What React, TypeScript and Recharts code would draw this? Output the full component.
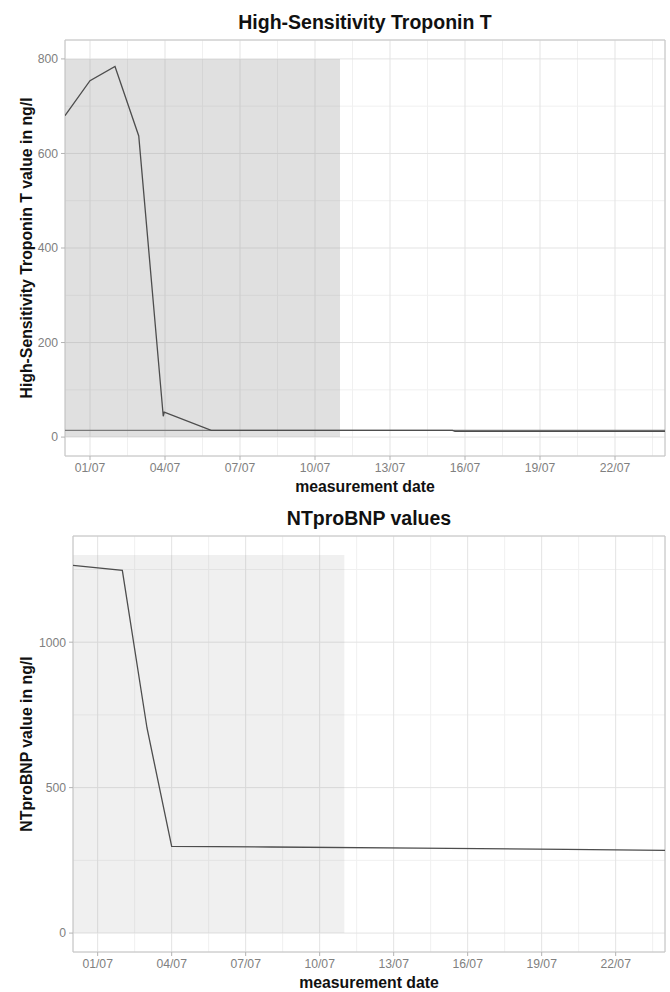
import {
  ComposedChart,
  Line,
  XAxis,
  YAxis,
  CartesianGrid,
  ReferenceArea,
  ReferenceLine,
  Label,
} from "recharts";

const FONT = "'Liberation Sans', Arial, sans-serif";

// shared date axis (day 0 = 30/06)
const dateDomain = [0, 24];
const dateTicks = [1, 4, 7, 10, 13, 16, 19, 22];
const dateTickLabels = ["01/07", "04/07", "07/07", "10/07", "13/07", "16/07", "19/07", "22/07"];
const dateMinor = [2.5, 5.5, 8.5, 11.5, 14.5, 17.5, 20.5, 23.5];
const shadeEnd = 11;

// hs troponin T
const tntDays = [0, 1, 2, 2.95, 3.93, 3.97, 5.85, 8, 11, 15.5, 15.6, 20, 24];
const tntValues = [680, 754, 784, 637, 44, 53, 14, 14, 14, 14, 12, 12, 12];
const tntTicks = [0, 200, 400, 600, 800];
const tntMinor = [100, 300, 500, 700];
const tntDomain = [-40, 840];
const tntShadeTop = 800;
const tntReference = 14;

// NTproBNP
const bnpDays = [0, 2, 3, 4, 8, 14, 20, 24];
const bnpValues = [1264, 1247, 705, 298, 296, 292, 288, 284];
const bnpTicks = [0, 500, 1000];
const bnpMinor = [250, 750, 1250];
const bnpDomain = [-65, 1365];
const bnpShadeTop = 1300;

type PanelProps = {
  title: string;
  yLabel: string;
  days: number[];
  values: number[];
  yDomain: number[];
  yTicks: number[];
  yMinor: number[];
  shadeTop: number;
  shadeOpacity: number;
  refValue?: number;
  yAxisWidth: number;
};

function Panel({
  title,
  yLabel,
  days,
  values,
  yDomain,
  yTicks,
  yMinor,
  shadeTop,
  shadeOpacity,
  refValue,
  yAxisWidth,
}: PanelProps) {
  const data = days.map((d, i) => ({ day: d, value: values[i] }));
  const plotWidth = 670 - yAxisWidth - 5;

  return (
    <div style={{ position: "relative", width: 670, height: 496 }}>
      <div
        style={{
          position: "absolute",
          top: 11,
          left: yAxisWidth,
          width: plotWidth,
          textAlign: "center",
          fontFamily: FONT,
          fontWeight: "bold",
          fontSize: 19.5,
          lineHeight: "22px",
          color: "#111",
        }}
      >
        {title}
      </div>
      <ComposedChart
        width={670}
        height={496}
        data={data}
        margin={{ top: 40, right: 5, bottom: 0, left: 0 }}
      >
        {/* minor + major grid */}
        <CartesianGrid stroke="#f0f0f0" verticalValues={dateMinor} horizontalValues={yMinor} />
        <CartesianGrid stroke="#e3e3e3" />

        <ReferenceArea
          x1={dateDomain[0]}
          x2={shadeEnd}
          y1={0}
          y2={shadeTop}
          fill="#999999"
          fillOpacity={shadeOpacity}
          stroke="none"
        />
        {refValue !== undefined && <ReferenceLine y={refValue} stroke="#7a7a7a" strokeWidth={1.2} />}

        <XAxis
          type="number"
          dataKey="day"
          domain={dateDomain}
          ticks={dateTicks}
          interval={0}
          allowDataOverflow
          tickFormatter={(v) => dateTickLabels[dateTicks.indexOf(v)]}
          height={40}
          tickSize={4}
          tickMargin={3}
          axisLine={false}
          tickLine={{ stroke: "#b3b3b3" }}
          tick={{ fill: "#808080", fontSize: 12.2, fontFamily: FONT }}
        >
          <Label
            value="measurement date"
            position="insideBottom"
            offset={4}
            fill="#111"
            fontWeight="bold"
            fontSize={15.8}
            fontFamily={FONT}
          />
        </XAxis>
        <YAxis
          type="number"
          domain={yDomain}
          ticks={yTicks}
          interval={0}
          allowDataOverflow
          width={yAxisWidth}
          tickSize={4}
          tickMargin={3}
          axisLine={false}
          tickLine={{ stroke: "#b3b3b3" }}
          tick={{ fill: "#808080", fontSize: 12.2, fontFamily: FONT }}
        >
          <Label
            content={(props: any) => {
              const vb = props.viewBox || { y: 40, height: 416 };
              const cy = vb.y + vb.height / 2;
              return (
                <text
                  x={26}
                  y={cy}
                  transform={`rotate(-90 26 ${cy})`}
                  textAnchor="middle"
                  dominantBaseline="central"
                  fill="#111"
                  fontWeight="bold"
                  fontSize={15.8}
                  fontFamily={FONT}
                >
                  {yLabel}
                </text>
              );
            }}
          />
        </YAxis>

        <Line
          type="linear"
          dataKey="value"
          stroke="#4d4d4d"
          strokeWidth={1.3}
          dot={false}
          activeDot={false}
          isAnimationActive={false}
        />

        {/* panel border */}
        <ReferenceArea
          x1={dateDomain[0]}
          x2={dateDomain[1]}
          y1={yDomain[0]}
          y2={yDomain[1]}
          fill="none"
          stroke="#c6c6c6"
        />
      </ComposedChart>
    </div>
  );
}

export default function App() {
  return (
    <div style={{ position: "absolute", left: 0, top: 0, width: 670, height: 992, background: "#fff" }}>
      <Panel
        title="High-Sensitivity Troponin T"
        yLabel="High-Sensitivity Troponin T value in ng/l"
        days={tntDays}
        values={tntValues}
        yDomain={tntDomain}
        yTicks={tntTicks}
        yMinor={tntMinor}
        shadeTop={tntShadeTop}
        shadeOpacity={0.3}
        refValue={tntReference}
        yAxisWidth={65}
      />
      <Panel
        title="NTproBNP values"
        yLabel="NTproBNP value in ng/l"
        days={bnpDays}
        values={bnpValues}
        yDomain={bnpDomain}
        yTicks={bnpTicks}
        yMinor={bnpMinor}
        shadeTop={bnpShadeTop}
        shadeOpacity={0.15}
        yAxisWidth={73}
      />
    </div>
  );
}
